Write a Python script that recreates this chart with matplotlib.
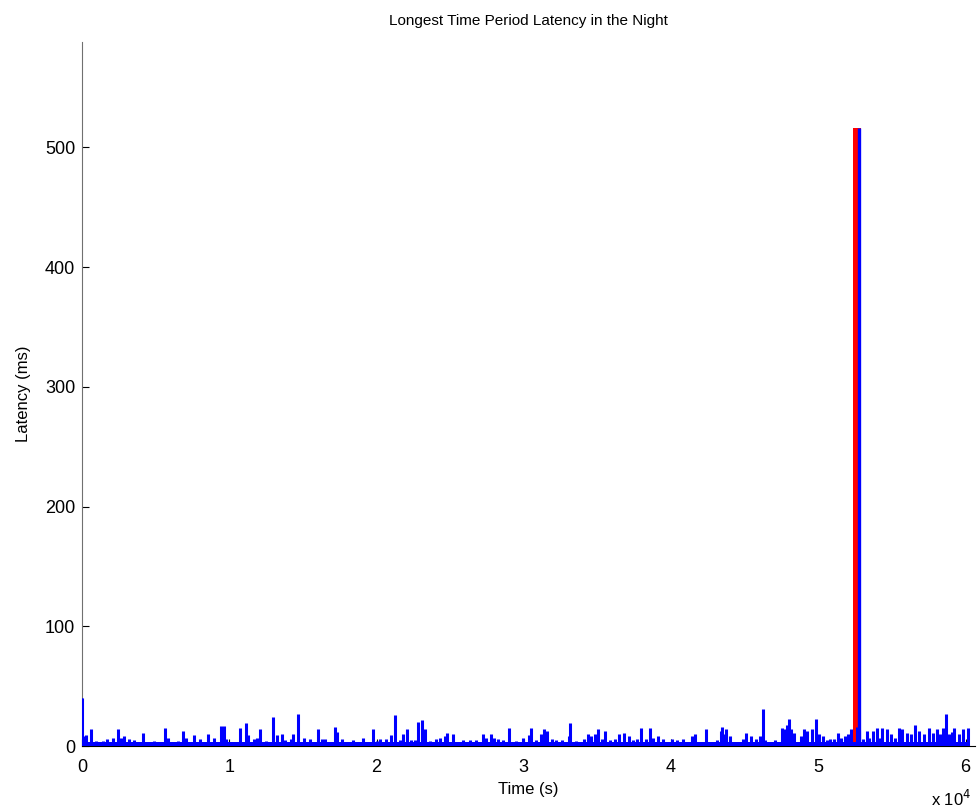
import numpy as np
from matplotlib import pyplot as plt

# spikes: time (s) and latency (ms)
spike_t = [0, 135, 290, 590, 970, 1420, 1710, 2100, 2430, 2660, 2880, 3220, 3560, 4120, 4910,
           5630, 5810, 6490, 6850, 7050, 7570, 8020, 8580, 8960, 9410, 9640, 9750,
           10720, 11100, 11260, 11670, 11890, 12110, 12520, 12970, 13240, 13580, 13800, 14190,
           14300, 14660, 15090, 15490, 15990, 16280, 16510, 17210, 17300, 17640, 18430, 19050,
           19730, 20000,
           20220, 20630, 20970, 21260, 21580, 21800, 22070, 22360, 22590, 22820, 23110, 23310,
           23600, 24010, 24320, 24620, 24800, 25220, 25900, 26350, 26760, 27250, 27430, 27770,
           28000, 28220, 28560, 28970, 29460, 29910,
           30360, 30490, 30810, 31150, 31400, 31600, 31940, 32210, 32610, 33060, 33130, 33510,
           34080, 34350, 34570, 34860, 35020, 35310, 35540, 35880, 36170, 36490, 36780, 37110,
           37390, 37680, 37970, 38290, 38600, 38800, 39100, 39480, 40050,
           40380, 40830, 41400, 41620, 42340, 42750, 43090, 43380, 43470, 43600, 43760, 43990,
           44440, 44890, 45070, 45410, 45740, 46010, 46220, 46400, 47030, 47520, 47650, 47840,
           48040, 48150, 48330, 48830, 49050, 49240, 49550, 49840, 50070, 50290,
           50580, 50810, 51040, 51350, 51530, 51800, 52030, 52210, 52610, 52770, 53000, 53290,
           53450, 53740, 53960, 54190, 54350, 54680, 54910, 55180, 55470, 55700, 56030, 56300,
           56530, 56820, 57160, 57500, 57790, 58060, 58290, 58470, 58650, 58850, 59080, 59240,
           59530, 59820, 60140]
spike_ms = [40, 8, 9, 14, 4, 4, 5.5, 7, 14, 7, 8, 6, 5, 11, 4,
            15, 7, 4, 12.5, 7, 9, 6, 10, 7, 17, 17, 6,
            15, 19, 9, 6, 7, 14, 4, 24, 9, 10, 5, 6,
            10, 27, 7, 6, 14, 5.5, 6, 16, 12, 6, 5, 7,
            14, 4,
            5.5, 6, 9, 26, 5, 10, 14, 5, 5, 20, 22, 14,
            4, 6, 7, 8, 11, 10, 5, 5, 5, 10, 7, 10,
            7, 6, 5, 15, 4, 7,
            9, 15, 5, 10, 14, 12.5, 6, 5, 5, 8.5, 19, 4,
            6, 10, 8, 10, 14, 6, 12.5, 5, 6, 10, 11, 8.5,
            5, 6, 15, 6, 15, 7, 8.5, 6, 5.5,
            5, 6, 8, 10, 14, 3.6, 5, 12.5, 16, 10, 14, 8,
            3.6, 5.5, 11, 8.5, 6, 8.5, 31, 5, 5, 15, 14, 17.5,
            22.5, 14, 11, 8.5, 14, 12.5, 14, 22.5, 10, 8,
            5, 6, 5.5, 11, 7, 8, 10, 14, 16, 12.5, 6, 12.5,
            7, 12.5, 15, 7, 15, 14, 10, 7, 15, 14, 10.5, 10,
            17.5, 12.5, 10, 15, 11, 14, 10, 15, 26.7, 10, 12, 15,
            10, 14, 15]
baseline_ms = 3.0
t_end = 60270

# longest period: window and peak
window_start, window_end = 52320, 52890
peak_t, peak_ms = 52770, 516

fig = plt.figure(figsize=(9.79, 8.11), dpi=100)
ax = fig.add_axes([0.0838, 0.0801, 0.912, 0.868])
plt.rcParams['font.family'] = ['Liberation Sans', 'DejaVu Sans']

ax.bar((window_start + window_end) / 2, peak_ms, width=window_end - window_start,
       color='red', zorder=2)
ax.fill_between([0, t_end], 0, baseline_ms, color='blue', lw=0, zorder=3)
ax.vlines(spike_t, 0, spike_ms, color='blue', lw=2.2, zorder=3)
ax.vlines([0], 0, [spike_ms[0]], color='blue', lw=1.0, zorder=3)
ax.vlines([peak_t], 0, [peak_ms], color='blue', lw=2.4, zorder=3)

ax.set_xlim(0, 60630)
ax.set_ylim(0, 588)
ax.set_xticks(np.arange(0, 60001, 10000))
ax.set_xticklabels(['0', '1', '2', '3', '4', '5', '6'], family='Liberation Sans', fontsize=13)
ax.set_yticks(np.arange(0, 501, 100))
ax.set_yticklabels([str(v) for v in range(0, 501, 100)], family='Liberation Sans', fontsize=13)
ax.tick_params(direction='in', length=5, width=0.8)
ax.tick_params(axis='x', pad=9)
ax.tick_params(axis='y', pad=5)
ax.spines['top'].set_visible(False)
ax.spines['right'].set_visible(False)
ax.spines['left'].set_color('#707070')

ax.set_title('Longest Time Period Latency in the Night', family='Liberation Sans', fontsize=11, pad=12)
ax.set_xlabel('Time (s)', family='Liberation Sans', fontsize=12, labelpad=5)
ax.set_ylabel('Latency (ms)', family='Liberation Sans', fontsize=12, labelpad=10)
fig.text(0.951, 0.006, r'x 10$^4$', family='Liberation Sans', fontsize=12)

fig.savefig('out.png', dpi=100)
